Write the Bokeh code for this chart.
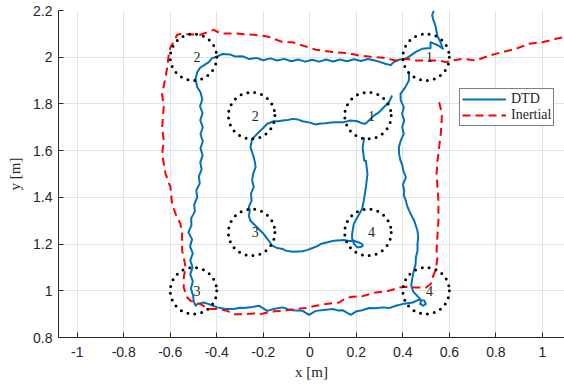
import math
import numpy as np
from bokeh.plotting import figure
from bokeh.models import Range1d, FixedTicker, CustomJSTickFormatter
from bokeh.core.properties import value
from bokeh.embed import file_html
from bokeh.resources import INLINE

# ---------------- data ----------------
x_ticks = [-1, -0.8, -0.6, -0.4, -0.2, 0, 0.2, 0.4, 0.6, 0.8, 1]
y_ticks = [0.8, 1, 1.2, 1.4, 1.6, 1.8, 2, 2.2]
x_label = "x [m]"
y_label = "y [m]"

# DTD trajectory, outer square
dtd_outer_x = [0.533, 0.526, 0.531, 0.540, 0.544, 0.548, 0.562, 0.572, 0.553, 0.532, 0.519, 0.519, 0.483, 0.454, 0.433, 0.411, 0.383, 0.361, 0.347, 0.325, 0.304,
               0.28, 0.25, 0.22, 0.19, 0.16, 0.13, 0.10, 0.07, 0.04, 0.01, -0.02, -0.05, -0.08, -0.11, -0.14, -0.17, -0.20, -0.23, -0.26, -0.29, -0.32, -0.345, -0.375, -0.398, -0.420, -0.434, -0.456, -0.470, -0.484, -0.491, -0.484,
               -0.470, -0.462, -0.472, -0.461, -0.471, -0.460, -0.470, -0.460, -0.470, -0.461, -0.471, -0.465, -0.477, -0.473, -0.488, -0.484, -0.497, -0.494, -0.510, -0.509, -0.522, -0.506, -0.515, -0.503, -0.514, -0.504, -0.514, -0.503, -0.511, -0.502, -0.499, -0.491,
               -0.484, -0.456, -0.434, -0.398, -0.362, -0.327, -0.300, -0.284, -0.255, -0.219, -0.200, -0.183, -0.155, -0.117, -0.095, -0.074, -0.031, -0.003, 0.026, 0.060, 0.098, 0.120, 0.141, 0.176, 0.198, 0.225, 0.255, 0.285, 0.313, 0.341, 0.370, 0.399, 0.442, 0.470, 0.492, 0.499, 0.487, 0.474, 0.480, 0.465, 0.445,
               0.436, 0.440, 0.447, 0.455, 0.456, 0.463, 0.463, 0.466, 0.463, 0.449, 0.437, 0.427, 0.418, 0.413, 0.404, 0.406, 0.400, 0.413, 0.402, 0.397, 0.390, 0.384, 0.383, 0.391, 0.404, 0.397, 0.406, 0.397, 0.404, 0.391, 0.390, 0.402, 0.411, 0.426, 0.427]
dtd_outer_y = [2.200, 2.180, 2.160, 2.136, 2.115, 2.093, 2.064, 2.036, 2.050, 2.059, 2.064, 2.039, 2.036, 2.022, 2.007, 1.993, 1.989, 1.979, 1.966, 1.972, 1.979,
               1.986, 1.992, 1.984, 1.991, 1.983, 1.990, 1.982, 1.990, 1.981, 1.989, 1.981, 1.990, 1.983, 1.993, 1.986, 1.995, 1.987, 1.997, 1.992, 2.004, 2.003, 2.012, 2.014, 2.003, 1.996, 1.979, 1.965, 1.957, 1.936, 1.908, 1.872,
               1.850, 1.820, 1.790, 1.760, 1.730, 1.700, 1.670, 1.640, 1.610, 1.580, 1.550, 1.520, 1.490, 1.460, 1.430, 1.400, 1.370, 1.340, 1.310, 1.280, 1.250, 1.220, 1.190, 1.160, 1.130, 1.100, 1.070, 1.040, 1.010, 0.980, 0.955, 0.936,
               0.943, 0.950, 0.943, 0.929, 0.922, 0.922, 0.927, 0.926, 0.929, 0.936, 0.925, 0.914, 0.922, 0.929, 0.921, 0.917, 0.914, 0.897, 0.914, 0.918, 0.922, 0.916, 0.917, 0.897, 0.911, 0.917, 0.926, 0.925, 0.929, 0.926, 0.936, 0.943, 0.950, 0.962, 0.958, 0.944, 0.936, 0.944, 0.958, 0.975, 0.996,
               1.022, 1.050, 1.086, 1.115, 1.143, 1.170, 1.200, 1.228, 1.257, 1.300, 1.322, 1.343, 1.365, 1.386, 1.408, 1.429, 1.455, 1.486, 1.515, 1.540, 1.557, 1.585, 1.614, 1.643, 1.672, 1.700, 1.729, 1.757, 1.786, 1.815, 1.843, 1.860, 1.872, 1.900, 1.932]

# DTD trajectory, inner square
dtd_inner_x = [0.354, 0.340, 0.318, 0.297, 0.275, 0.254, 0.239, 0.225, 0.204, 0.175, 0.146, 0.118, 0.089, 0.069, 0.045, 0.026, 0.000, -0.031, -0.050, -0.074, -0.095, -0.117, -0.135, -0.155, -0.183, -0.205, -0.226, -0.248, -0.255,
               -0.248, -0.241, -0.236, -0.233, -0.244, -0.248, -0.241, -0.253, -0.250, -0.262, -0.258, -0.262, -0.255, -0.240, -0.226, -0.198, -0.176, -0.162, -0.140, -0.117, -0.104, -0.074, -0.031, -0.010, 0.012, 0.035, 0.046, 0.085, 0.103, 0.146, 0.169, 0.189, 0.211, 0.225, 0.228, 0.218, 0.204, 0.190,
               0.182, 0.182, 0.189, 0.204, 0.225, 0.232, 0.239, 0.241, 0.248, 0.241, 0.234, 0.227, 0.234]
dtd_inner_y = [1.836, 1.807, 1.786, 1.764, 1.750, 1.729, 1.715, 1.717, 1.726, 1.729, 1.722, 1.722, 1.720, 1.717, 1.716, 1.712, 1.720, 1.726, 1.733, 1.736, 1.731, 1.729, 1.726, 1.726, 1.715, 1.693, 1.672, 1.650, 1.614,
               1.593, 1.572, 1.550, 1.529, 1.500, 1.472, 1.445, 1.415, 1.386, 1.360, 1.343, 1.320, 1.300, 1.285, 1.271, 1.243, 1.214, 1.193, 1.183, 1.179, 1.172, 1.167, 1.169, 1.175, 1.183, 1.192, 1.200, 1.210, 1.214, 1.217, 1.213, 1.214, 1.207, 1.200, 1.192, 1.187, 1.186, 1.200,
               1.225, 1.243, 1.286, 1.314, 1.350, 1.386, 1.429, 1.443, 1.500, 1.557, 1.557, 1.614, 1.657]

# Inertial trajectory
ins_x = [0.556, 0.568, 0.566, 0.563, 0.556, 0.549, 0.545, 0.549, 0.553, 0.553, 0.549, 0.545, 0.549, 0.542, 0.528, 0.520, 0.499, 0.456, 0.413, 0.384, 0.341, 0.284, 0.227, 0.184, 0.155, 0.126, 0.069, 0.026, -0.017, -0.060, -0.117, -0.150, -0.183, -0.212, -0.241, -0.284, -0.327, -0.355, -0.398, -0.434, -0.470, -0.513, -0.527,
         -0.542, -0.542, -0.534, -0.542, -0.549, -0.549, -0.556, -0.577, -0.592, -0.599, -0.620, -0.635, -0.628, -0.635, -0.628, -0.635, -0.620, -0.613, -0.606, -0.599, -0.585, -0.570, -0.556, -0.470, -0.441, -0.413, -0.384, -0.327, -0.241, -0.183, -0.117, -0.074, -0.031, 0.026, 0.098, 0.169, 0.212, 0.255, 0.313, 0.370, 0.413, 0.456, 0.513, 0.556, 0.585, 0.614, 0.656, 0.714, 0.771, 0.828, 0.886, 0.943, 1.000, 1.058, 1.095, 1.120]
ins_y = [1.807, 1.758, 1.715, 1.672, 1.614, 1.557, 1.500, 1.443, 1.386, 1.300, 1.243, 1.172, 1.143, 1.093, 1.057, 1.029, 1.014, 1.014, 1.017, 1.014, 1.000, 0.993, 0.977, 0.974, 0.969, 0.950, 0.943, 0.936, 0.926, 0.922, 0.914, 0.912, 0.907, 0.900, 0.903, 0.900, 0.900, 0.914, 0.922, 0.922, 0.943, 0.957, 0.971,
         1.014, 1.057, 1.100, 1.143, 1.172, 1.243, 1.286, 1.329, 1.372, 1.443, 1.500, 1.586, 1.643, 1.700, 1.786, 1.843, 1.914, 1.957, 2.015, 2.043, 2.067, 2.096, 2.099, 2.096, 2.107, 2.117, 2.102, 2.102, 2.096, 2.089, 2.065, 2.064, 2.050, 2.032, 2.022, 2.017, 2.007, 2.003, 1.998, 1.986, 1.993, 1.986, 1.986, 1.986, 1.979, 1.986, 1.993, 1.986, 2.007, 2.022, 2.036, 2.058, 2.064, 2.079, 2.086, 2.090]

# waypoint circles
circ_x = [0.5, -0.5, -0.5, 0.5, 0.25, -0.25, -0.25, 0.25]
circ_y = [2.0, 2.0, 1.0, 1.0, 1.75, 1.75, 1.25, 1.25]
circ_labels = ["1", "2", "3", "4", "1", "2", "3", "4"]
circ_radius = 0.1

# ---------------- figure ----------------
p = figure(width=564, height=387, output_backend="svg", toolbar_location=None,
           x_range=Range1d(-1.0804, 1.095), y_range=Range1d(0.8, 2.2),
           min_border_left=58, min_border_right=0, min_border_top=10, min_border_bottom=50)
p.outline_line_color = None
p.background_fill_color = "white"

serif = "Liberation Serif"
fmt = CustomJSTickFormatter(code="return tick.toFixed(1).replace(/\\.0$/, '');")
for ax, ticks, lab in ((p.xaxis, x_ticks, x_label), (p.yaxis, y_ticks, y_label)):
    ax.ticker = FixedTicker(ticks=ticks)
    ax.formatter = fmt
    ax.major_tick_in = 5
    ax.major_tick_out = 0
    ax.minor_tick_line_color = None
    ax.axis_line_color = "#262626"
    ax.major_tick_line_color = "#262626"
    ax.major_label_text_font = "Liberation Sans"
    ax.major_label_text_font_size = "14px"
    ax.major_label_text_color = "#262626"
    ax.axis_label = lab
    ax.axis_label_text_font = serif
    ax.axis_label_text_font_size = "15px"
    ax.axis_label_text_font_style = "normal"
    ax.axis_label_text_color = "#262626"
p.xaxis.major_label_standoff = 9
p.yaxis.major_label_standoff = 6
p.xaxis.axis_label_standoff = 4
p.yaxis.axis_label_standoff = 7

p.xgrid.ticker = FixedTicker(ticks=x_ticks)
p.ygrid.ticker = FixedTicker(ticks=y_ticks)
for g in (p.xgrid, p.ygrid):
    g.grid_line_color = "#e3e3e3"
    g.grid_line_width = 1

dtd_x = np.array(dtd_outer_x + [math.nan] + dtd_inner_x, dtype=float)
dtd_y = np.array(dtd_outer_y + [math.nan] + dtd_inner_y, dtype=float)
p.line(dtd_x, dtd_y, line_color="#0072BD", line_width=2, line_join="round", legend_label="DTD")
p.line(np.array(ins_x), np.array(ins_y), line_color="#FF0000", line_width=2, line_dash="8 5", legend_label="Inertial")

p.circle(x=circ_x, y=circ_y, radius=circ_radius, fill_color=None, line_color="black",
         line_width=3, line_dash=value("0 7"), line_cap="round")
p.text(x=circ_x, y=circ_y, text=circ_labels, text_font=value(serif), text_font_size="14px",
       text_align="left", text_baseline="middle", text_color="#262626")

lg = p.legend[0]
lg.location = (401, 211)
lg.border_line_color = "black"
lg.border_line_width = 1
lg.background_fill_color = "white"
lg.background_fill_alpha = 1
lg.label_text_font = serif
lg.label_text_font_size = "14px"
lg.label_text_color = "#262626"
lg.padding = 2
lg.spacing = 0
lg.margin = 0
lg.glyph_width = 44
lg.glyph_height = 16
lg.label_height = 16
lg.label_standoff = 5

open("out.html", "w").write(file_html(p, INLINE))
